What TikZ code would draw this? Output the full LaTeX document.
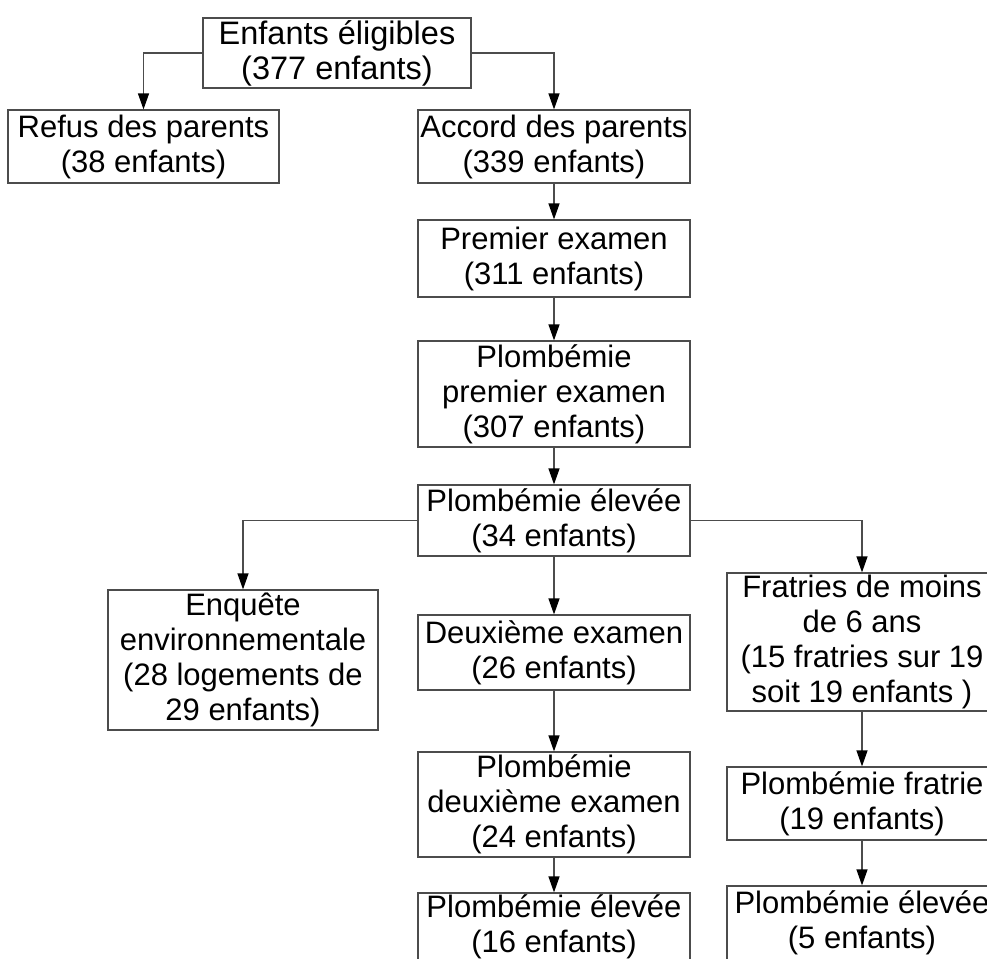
\documentclass[tikz,border=0pt]{standalone}
\usepackage{fontspec}
\setmainfont{Liberation Sans}
\usetikzlibrary{arrows.meta}

\begin{document}
\begin{tikzpicture}[x=1pt,y=-1pt,
    box/.style={draw=black!70, line width=1.2pt, align=center, inner sep=0pt,
      font=\fontsize{31}{35}\selectfont},
    arr/.style={draw=black!70, line width=1.2pt, -{Triangle[length=16pt,width=11pt,black]}}]
      \clip (0,0) rectangle (987,958);

      \node [box, minimum width=268, minimum height=70, font=\fontsize{32.5}{35}\selectfont] (elig) at (337, 53) {Enfants éligibles\\(377 enfants)};
      \node [box, minimum width=271, minimum height=73] (refus) at (143.5, 146.5) {Refus des parents\\(38 enfants)};
      \node [box, minimum width=272, minimum height=73] (accord) at (554, 146.5) {Accord des parents\\(339 enfants)};
      \node [box, minimum width=272, minimum height=77] (exam1) at (554, 258.5) {Premier examen\\(311 enfants)};
      \node [box, minimum width=272, minimum height=106] (plomb1) at (554, 394) {Plombémie\\premier examen\\(307 enfants)};
      \node [box, minimum width=272, minimum height=71] (eleve1) at (554, 520.5) {Plombémie élevée\\(34 enfants)};

      \node [box, minimum width=270, minimum height=140] (enq) at (243, 660) {Enquête\\environnementale\\(28 logements de\\29 enfants)};
      \node [box, minimum width=272, minimum height=75] (exam2) at (554, 652.5) {Deuxième examen\\(26 enfants)};
      \node [box, minimum width=272, minimum height=105] (plomb2) at (554, 804.5) {Plombémie\\deuxième examen\\(24 enfants)};
      \node [box, minimum width=272, minimum height=68] (eleve2) at (554, 927) {Plombémie élevée\\(16 enfants)};

      \node [box, minimum width=270, minimum height=138] (frat) at (862, 642) {Fratries de moins\\de 6 ans\\(15 fratries sur 19\\soit 19 enfants )};
      \node [box, minimum width=270, minimum height=73] (plombf) at (862, 803.5) {Plombémie fratrie\\(19 enfants)};
      \node [box, minimum width=270, minimum height=74] (eleve3) at (862, 923) {Plombémie élevée\\(5 enfants)};

      \draw [arr] (elig.west) -| (refus.north);
      \draw [arr] (elig.east) -| (accord.north);
      \draw [arr] (accord)--(exam1);
      \draw [arr] (exam1)--(plomb1);
      \draw [arr] (plomb1)--(eleve1);
      \draw [arr] (eleve1.west) -| (enq.north);
      \draw [arr] (eleve1.east) -| (frat.north);
      \draw [arr] (eleve1)--(exam2);
      \draw [arr] (exam2)--(plomb2);
      \draw [arr] (plomb2)--(eleve2);
      \draw [arr] (frat)--(plombf);
      \draw [arr] (plombf)--(eleve3);
\end{tikzpicture}
\end{document}
